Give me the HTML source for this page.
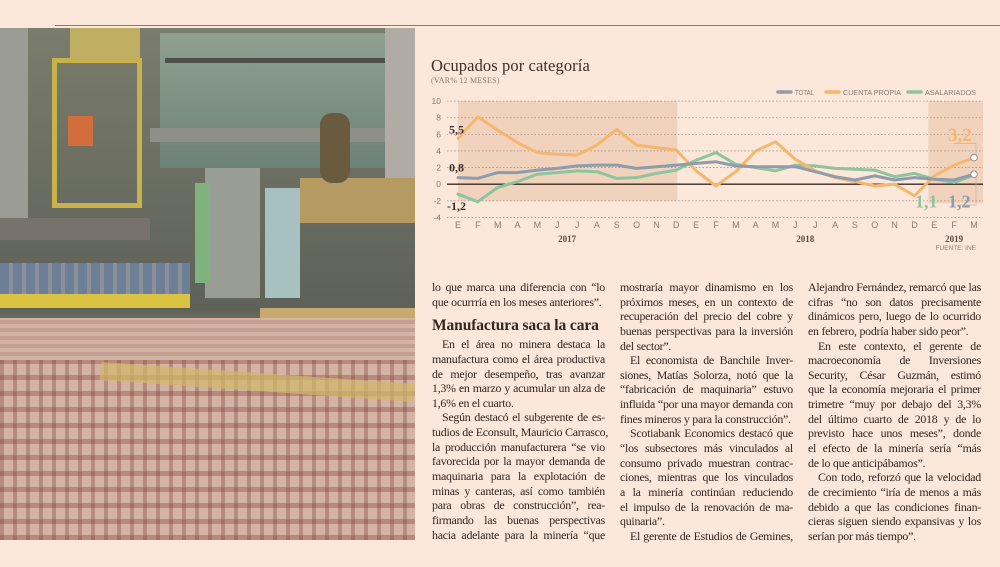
<!DOCTYPE html>
<html><head><meta charset="utf-8">
<style>
html,body{margin:0;padding:0}
body{width:1000px;height:567px;overflow:hidden;background:#fbe8da;position:relative;font-family:"Liberation Serif",serif;color:#3b2c25}
.abs{position:absolute}
.col{position:absolute;width:173px;font-size:11.9px;line-height:14.65px;letter-spacing:-0.25px;color:#33251f}
.col div{text-align:justify;text-align-last:justify;white-space:nowrap;height:14.65px}
.col div.e{text-align-last:left}
.col div.i{padding-left:10px}
h2{margin:0;font-size:15.5px;font-weight:bold;height:28px;line-height:34px;letter-spacing:-0.1px}
</style></head><body>
<div class="abs" style="left:55px;top:25px;width:945px;height:1px;background:#8a7a70"></div>

<div class="abs" style="left:0;top:28px;width:415px;height:512px;overflow:hidden;background:linear-gradient(#7a7c6c,#5e6158 55%,#8b7a6c 60%,#c9a596 70%,#b88f82)">
  <div class="abs" style="left:160px;top:5px;width:255px;height:135px;background:linear-gradient(#8fa090,#6d8278)"></div>
  <div class="abs" style="left:165px;top:30px;width:235px;height:5px;background:#4d5148"></div>
  <div class="abs" style="left:150px;top:100px;width:265px;height:14px;background:#8e8f86"></div>
  <div class="abs" style="left:205px;top:140px;width:55px;height:130px;background:#9a9d94"></div>
  <div class="abs" style="left:195px;top:155px;width:14px;height:100px;background:#7fb27c"></div>
  <div class="abs" style="left:265px;top:160px;width:35px;height:110px;background:#a7c0c0"></div>
  <div class="abs" style="left:0;top:0;width:28px;height:200px;background:#9b9c94"></div>
  <div class="abs" style="left:52px;top:30px;width:90px;height:150px;border:5px solid #c8b24c;box-sizing:border-box"></div>
  <div class="abs" style="left:70px;top:0;width:70px;height:32px;background:#c0ae62"></div>
  <div class="abs" style="left:68px;top:88px;width:25px;height:30px;background:#d26e3c"></div>
  <div class="abs" style="left:0;top:190px;width:150px;height:22px;background:#77726a"></div>
  <div class="abs" style="left:300px;top:150px;width:115px;height:45px;background:#b59b62"></div>
  <div class="abs" style="left:385px;top:0;width:30px;height:150px;background:#b0aca4"></div>
  <div class="abs" style="left:320px;top:85px;width:30px;height:70px;background:#6a5a40;border-radius:12px"></div>
  <div class="abs" style="left:0;top:235px;width:190px;height:35px;background:repeating-linear-gradient(90deg,#6d7f96 0 9px,#8a8f98 9px 13px)"></div>
  <div class="abs" style="left:0;top:266px;width:190px;height:14px;background:#dcc242"></div>
  <div class="abs" style="left:260px;top:280px;width:155px;height:40px;background:#c7aa70"></div>
  <div class="abs" style="left:0;top:330px;width:415px;height:182px;background:repeating-linear-gradient(90deg,rgba(120,70,60,.35) 0 4px,transparent 4px 13px),repeating-linear-gradient(0deg,#b88a7c 0 5px,#d6b2a4 5px 16px)"></div>
  <div class="abs" style="left:0;top:290px;width:415px;height:42px;background:repeating-linear-gradient(0deg,#d4b2a4 0 4px,#c49e90 4px 8px)"></div>
  <div class="abs" style="left:100px;top:345px;width:315px;height:18px;background:#d2b868;transform:rotate(4deg);opacity:.7"></div>
</div>

<svg class="abs" style="left:0;top:0" width="1000" height="567">
<g id="chart"></g>
</svg>

<div class="abs" style="left:431px;top:56px;font-size:16.5px;color:#3d2e27;letter-spacing:0.1px">Ocupados por categoría</div>
<div class="abs" style="left:431px;top:76px;font-size:8px;color:#8a7a72;letter-spacing:0.2px">(VAR% 12 MESES)</div>

<div class="col" style="left:432px;top:280px">
<div>lo que marca una diferencia con “lo</div>
<div class="e">que ocurrría en los meses anteriores”.</div>
<h2>Manufactura saca la cara</h2>
<div class="i">En el área no minera destaca la</div>
<div>manufactura como el área productiva</div>
<div>de mejor desempeño, tras avanzar</div>
<div>1,3% en marzo y acumular un alza de</div>
<div class="e">1,6% en el cuarto.</div>
<div class="i">Según destacó el subgerente de es-</div>
<div>tudios de Econsult, Mauricio Carrasco,</div>
<div>la producción manufacturera “se vio</div>
<div>favorecida por la mayor demanda de</div>
<div>maquinaria para la explotación de</div>
<div>minas y canteras, así como también</div>
<div>para obras de construcción”, rea-</div>
<div>firmando las buenas perspectivas</div>
<div>hacia adelante para la minería “que</div>
</div>

<div class="col" style="left:620px;top:280px">
<div>mostraría mayor dinamismo en los</div>
<div>próximos meses, en un contexto de</div>
<div>recuperación del precio del cobre y</div>
<div>buenas perspectivas para la inversión</div>
<div class="e">del sector”.</div>
<div class="i">El economista de Banchile Inver-</div>
<div>siones, Matías Solorza, notó que la</div>
<div>“fabricación de maquinaria” estuvo</div>
<div>influida “por una mayor demanda con</div>
<div class="e">fines mineros y para la construcción”.</div>
<div class="i">Scotiabank Economics destacó que</div>
<div>“los subsectores más vinculados al</div>
<div>consumo privado muestran contrac-</div>
<div>ciones, mientras que los vinculados</div>
<div>a la minería continúan reduciendo</div>
<div>el impulso de la renovación de ma-</div>
<div class="e">quinaria”.</div>
<div class="i">El gerente de Estudios de Gemines,</div>
</div>

<div class="col" style="left:808px;top:280px">
<div>Alejandro Fernández, remarcó que las</div>
<div>cifras “no son datos precisamente</div>
<div>dinámicos pero, luego de lo ocurrido</div>
<div class="e">en febrero, podría haber sido peor”.</div>
<div class="i">En este contexto, el gerente de</div>
<div>macroeconomía de Inversiones</div>
<div>Security, César Guzmán, estimó</div>
<div>que la economía mejoraria el primer</div>
<div>trimetre “muy por debajo del 3,3%</div>
<div>del último cuarto de 2018 y de lo</div>
<div>previsto hace unos meses”, donde</div>
<div>el efecto de la minería sería “más</div>
<div class="e">de lo que anticipábamos”.</div>
<div class="i">Con todo, reforzó que la velocidad</div>
<div>de crecimiento “iría de menos a más</div>
<div>debido a que las condiciones finan-</div>
<div>cieras siguen siendo expansivas y los</div>
<div class="e">serían por más tiempo”.</div>
</div>

<script>
const months = ["E","F","M","A","M","J","J","A","S","O","N","D","E","F","M","A","M","J","J","A","S","O","N","D","E","F","M"];
const years = ["2017","2018","2019"];
const yearIdx = [5.5,17.5,25];
const yTicks = [10,8,6,4,2,0,-2,-4];
const total = [0.8,0.7,1.4,1.4,1.7,1.9,2.2,2.3,2.3,1.9,2.1,2.3,2.5,2.7,2.2,2.1,2.1,2.1,1.5,0.9,0.5,1.0,0.5,0.8,0.6,0.5,1.2];
const cuentaPropia = [5.5,8.1,6.5,5.0,3.8,3.6,3.5,4.7,6.6,4.7,4.4,4.1,1.6,-0.2,1.5,4.0,5.1,3.0,1.6,0.8,0.3,-0.2,0.0,-1.4,1.0,2.3,3.2];
const asalariados = [-1.2,-2.1,-0.4,0.3,1.2,1.4,1.6,1.5,0.7,0.8,1.3,1.7,2.9,3.8,2.4,2.0,1.6,2.3,2.2,1.9,1.8,1.7,0.9,1.3,0.6,0.2,1.1];

const X0=458, DX=(974-458)/26, Y0=184.2, DY=8.31;
const x=i=>X0+i*DX, y=v=>Y0-v*DY;
const g=document.getElementById('chart');
const NS="http://www.w3.org/2000/svg";
function mk(t,a,txt){const e=document.createElementNS(NS,t);for(const k in a)e.setAttribute(k,a[k]);if(txt!=null)e.textContent=txt;g.appendChild(e);return e;}

let e;
e=mk('rect',{x:x(0),y:y(10),width:x(11)-x(0)+1,height:y(-2)-y(10),fill:'#f1d2bd'});


e=mk('rect',{x:x(23.7),y:y(10),width:983-x(23.7),height:y(-2.3)-y(10),fill:'#f1d2bd'});



yTicks.forEach(v=>{
  e=mk('line',{x1:447,x2:983,y1:y(v),y2:y(v),stroke:v===0?'#3a2a22':'#a8968a','stroke-width':v===0?1.3:0.8,'stroke-dasharray':v===0?'':'1.5,2'});
  
  
  e=mk('text',{x:441,y:y(v)+3,'text-anchor':'end','font-size':8.5,fill:'#8a7a72','font-family':'Liberation Sans, sans-serif'},String(v));
  
  
});
months.forEach((m,i)=>{
  e=mk('text',{x:x(i),y:228,'text-anchor':'middle','font-size':9,fill:'#8a7a72','font-family':'Liberation Sans, sans-serif'},m);
  
  
});
years.forEach((yr,k)=>{
  e=mk('text',{x:x(yearIdx[k]),y:242,'text-anchor':'middle','font-size':9,'font-weight':'bold',fill:'#5a4a42','font-family':'Liberation Serif, serif'},yr);
  
  
});
e=mk('text',{x:976,y:250,'text-anchor':'end','font-size':6.5,fill:'#8a7a72','font-family':'Liberation Sans, sans-serif'},'FUENTE: INE');



function series(arr,color,name){
  const d=arr.map((v,i)=>(i?'L':'M')+x(i).toFixed(1)+','+y(v).toFixed(1)).join(' ');
  const p=mk('path',{d:d,fill:'none',stroke:color,'stroke-width':3,'stroke-linejoin':'round','stroke-linecap':'round'});
  
  
}
series(asalariados,'#8fc4a0','line-asalariados');
series(cuentaPropia,'#f6b66e','line-cuenta-propia');
series(total,'#8e9cab','line-total');

const L=months.length-1;
e=mk('polyline',{points:`${x(L)-20},${y(4.9)} ${x(L)+2},${y(4.9)} ${x(L)+2},${y(cuentaPropia[L])}`,fill:'none',stroke:'#c8b0a0','stroke-width':0.7});


e=mk('polyline',{points:`${x(L)-20},${y(-2.5)} ${x(L)+2},${y(-2.5)} ${x(L)+2},${y(total[L])}`,fill:'none',stroke:'#c8b0a0','stroke-width':0.7});


[cuentaPropia[L],total[L]].forEach(v=>{
  e=mk('circle',{cx:x(L),cy:y(v),r:3.3,fill:'#fff',stroke:'#9a8e88','stroke-width':1});
  
  
});

function ann(t,xx,yy,size,color,name){
  e=mk('text',{x:xx,y:yy,'font-size':size,'font-weight':'bold',fill:color,'font-family':'Liberation Serif, serif'},t);
  
  
}
ann('5,5',449,y(cuentaPropia[0])-5,12,'#3d2e27','label-start-cuenta-propia');
ann('0,8',449,y(total[0])-6,12,'#3d2e27','label-start-total');
ann('-1,2',447,y(asalariados[0])+16,12,'#3d2e27','label-start-asalariados');
ann('3,2',948,y(5.2),19,'#f6b66e','label-end-cuenta-propia');
ann('1,1',915,y(-2.8),18,'#8fc4a0','label-end-asalariados');
ann('1,2',948,y(-2.8),18,'#8e9cab','label-end-total');

const legNames=['TOTAL','CUENTA PROPIA','ASALARIADOS'];
const legColors=['#8e9cab','#f6b66e','#8fc4a0'];
const legX=[778,826,908];
const legW=[19,58,51];
legNames.forEach((n,k)=>{
  e=mk('line',{x1:legX[k],x2:legX[k]+13,y1:92,y2:92,stroke:legColors[k],'stroke-width':3.5,'stroke-linecap':'round'});
  
  
  e=mk('text',{x:legX[k]+17,y:95,'font-size':7.5,fill:'#8a7a72','font-family':'Liberation Sans, sans-serif',textLength:legW[k],lengthAdjust:'spacingAndGlyphs'},n);
  
  
});
</script>
</body></html>
